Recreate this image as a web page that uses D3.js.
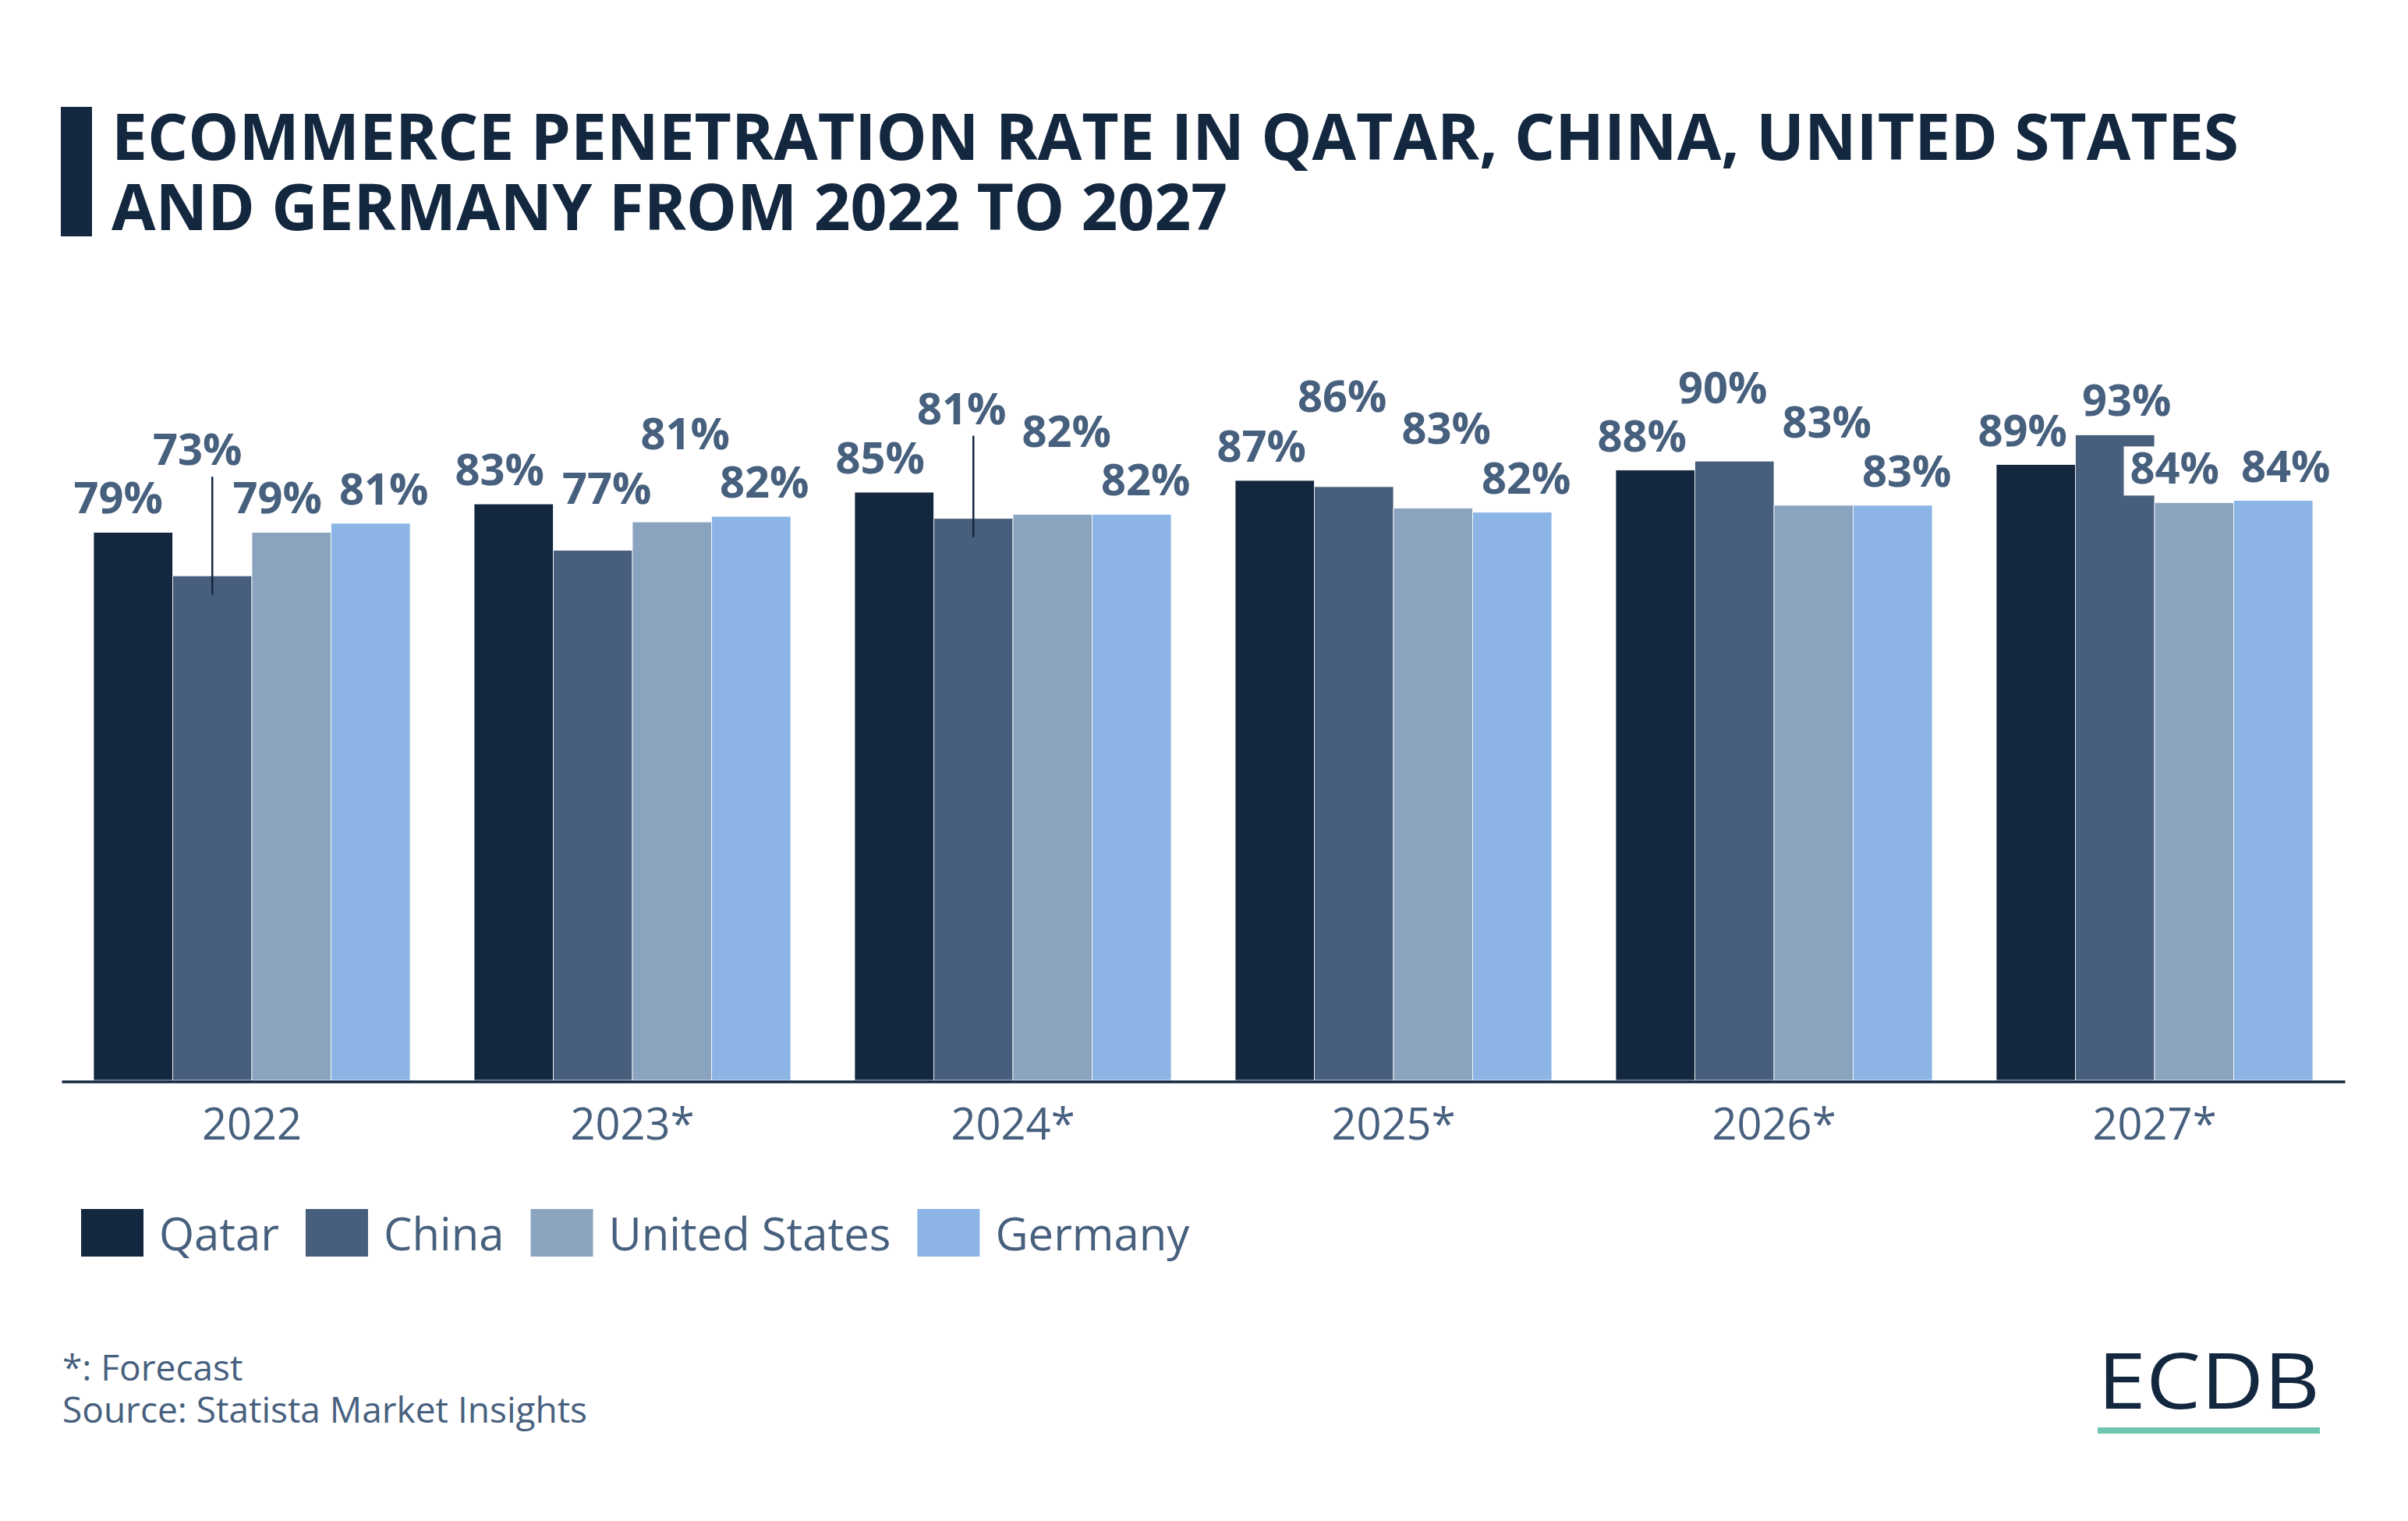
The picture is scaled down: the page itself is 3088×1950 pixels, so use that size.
<!DOCTYPE html>
<html>
<head>
<meta charset="utf-8">
<script src="https://cdn.jsdelivr.net/npm/d3@7"></script>
<style>
  html, body { margin: 0; padding: 0; background: #ffffff; }
  svg { display: block; }
  text { font-family: "Open Sans", "Noto Sans", sans-serif; }
</style>
</head>
<body>
<script>
// ---------- data ----------
const years = ["2022", "2023*", "2024*", "2025*", "2026*", "2027*"];
const seriesNames = ["Qatar", "China", "United States", "Germany"];
const qatar   = [79.3, 83.4, 85.1, 86.8, 88.3, 89.1];
const china   = [73.0, 76.7, 81.3, 85.9, 89.6, 93.4];
const usa     = [79.3, 80.8, 81.9, 82.8, 83.2, 83.6];
const germany = [80.6, 81.6, 81.9, 82.2, 83.2, 83.9];
const titleLines = ["ECOMMERCE PENETRATION RATE IN QATAR, CHINA, UNITED STATES", "AND GERMANY FROM 2022 TO 2027"];
const footnotes = ["*: Forecast", "Source: Statista Market Insights"];

// ---------- label layout (collision-avoidance offsets, px) ----------
const labelDx = [
  [-19, -18, -18, -17, -17, -17],
  [-19,  18, -15, -15, -15,  15],
  [-18,  17,  18,  17,  17, -25],
  [ 17,  17,  18,  18,  18,  16]
];
const labelLift = [
  [0, 0, 0, 0, 0, 0],
  [118, 35, 97, 72, 50, 0],
  [0, 69, 62, 58, 63, 0],
  [0, 0, 0, 0, 0, 0]
];

const colors = ["#13273f", "#475f7c", "#8aa4bf", "#8cb5e6"];
const textColor = "#47607e";
const dark = "#13273f";

const W = 3088, H = 1950;
const svg = d3.select("body").append("svg").attr("width", W).attr("height", H);

// ---------- title ----------
svg.append("rect").attr("x", 78).attr("y", 137).attr("width", 40).attr("height", 166).attr("fill", dark);
svg.selectAll("text.title").data(titleLines).enter().append("text")
  .attr("class", "title")
  .attr("x", 143).attr("y", (d, i) => 205 + i * 90)
  .attr("font-size", 82).attr("font-weight", 700).attr("fill", dark)
  .text(d => d);

// ---------- scales ----------
const x0 = d3.scaleBand().domain(years).range([79, 3007]).paddingInner(0.168).paddingOuter(0.084);
const x1 = d3.scaleBand().domain(seriesNames).range([0, x0.bandwidth()]);
const y = d3.scaleLinear().domain([0, 100]).range([1385, 499]);

const allSeries = [qatar, china, usa, germany];
const flat = [];
allSeries.forEach((vals, s) => vals.forEach((v, i) => flat.push({ s, i, v, year: years[i], name: seriesNames[s] })));

// ---------- bars ----------
svg.append("g").selectAll("rect").data(flat).enter().append("rect")
  .attr("x", d => x0(d.year) + x1(d.name))
  .attr("y", d => y(d.v))
  .attr("width", x1.bandwidth())
  .attr("height", d => y(0) - y(d.v))
  .attr("fill", d => colors[d.s])
  .attr("stroke", "#ffffff").attr("stroke-width", 0.8);

// ---------- axis ----------
const xAxis = d3.axisBottom(x0).tickSize(0).tickPadding(0);
const ax = svg.append("g").attr("transform", `translate(0, ${y(0) + 1.5})`).call(xAxis);
ax.select(".domain").attr("stroke", dark).attr("stroke-width", 3.5);
ax.selectAll(".tick text")
  .attr("font-family", "'Open Sans', sans-serif")
  .attr("font-size", 56).attr("fill", textColor)
  .attr("dy", 0).attr("y", 74);

// ---------- value labels ----------
const labG = svg.append("g");
const fmt = d3.format(".0f");
const labels = labG.selectAll("g.lab").data(flat).enter().append("g").attr("class", "lab");
labels.each(function(d) {
  const g = d3.select(this);
  const cx = x0(d.year) + x1(d.name) + x1.bandwidth() / 2 + labelDx[d.s][d.i];
  const by = y(d.v) - 24 - labelLift[d.s][d.i];
  d.cx = cx; d.by = by;
  const t = g.append("text")
    .attr("x", cx).attr("y", by)
    .attr("text-anchor", "middle")
    .attr("font-size", 56).attr("font-weight", 700).attr("fill", textColor)
    .text(fmt(d.v) + "%");
  const bb = t.node().getBBox();
  g.insert("rect", "text")
    .attr("x", bb.x - 8).attr("y", by - 48).attr("width", bb.width + 16).attr("height", 63)
    .attr("fill", "#ffffff");
});
// leader lines for labels lifted far above their bars
labG.selectAll("line.leader").data(flat.filter(d => labelLift[d.s][d.i] > 80)).enter().append("line")
  .attr("class", "leader")
  .attr("x1", d => x0(d.year) + x1(d.name) + x1.bandwidth() / 2)
  .attr("x2", d => x0(d.year) + x1(d.name) + x1.bandwidth() / 2)
  .attr("y1", d => d.by + 15)
  .attr("y2", d => y(d.v) + 24)
  .attr("stroke", dark).attr("stroke-width", 2.5);

// ---------- legend ----------
const leg = svg.append("g");
let lx = 104;
seriesNames.forEach((name, s) => {
  leg.append("rect").attr("x", lx).attr("y", 1550).attr("width", 80).attr("height", 61).attr("fill", colors[s]);
  const t = leg.append("text").attr("x", lx + 100).attr("y", 1603)
    .attr("font-size", 58).attr("fill", textColor).text(name);
  lx += 100 + t.node().getComputedTextLength() + 34;
});

// ---------- footer ----------
svg.selectAll("text.foot").data(footnotes).enter().append("text")
  .attr("class", "foot")
  .attr("x", 80).attr("y", (d, i) => 1770 + i * 54)
  .attr("font-size", 46).attr("fill", textColor)
  .text(d => d);

// ---------- logo ----------
svg.append("text").attr("x", 2690).attr("y", 1806)
  .attr("font-family", "Lato, 'Open Sans', sans-serif")
  .attr("font-size", 99).attr("font-weight", 400).attr("fill", dark)
  .attr("textLength", 285).attr("lengthAdjust", "spacingAndGlyphs")
  .text("ECDB");
svg.append("rect").attr("x", 2690).attr("y", 1830).attr("width", 285).attr("height", 8).attr("fill", "#70c4b0");
</script>
</body>
</html>
